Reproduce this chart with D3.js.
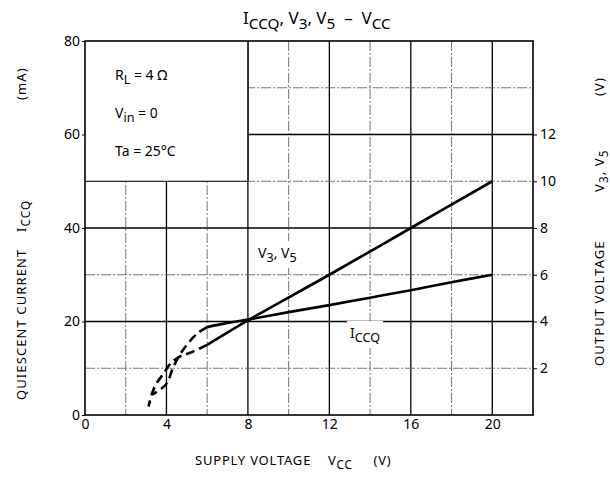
<!DOCTYPE html>
<html>
<head>
<meta charset="utf-8">
<script src="https://cdn.jsdelivr.net/npm/d3@7"></script>
<style>
  body { margin: 0; background: #fff; }
  text { font-family: "Noto Sans", "Open Sans", sans-serif; fill: #000; white-space: pre; }
</style>
</head>
<body>
<svg id="chart" width="610" height="482"></svg>
<script>
// ---- data ----
var vccTicks = [0, 4, 8, 12, 16, 20];
var iccTicks = [0, 20, 40, 60, 80];
var voltTicks = [2, 4, 6, 8, 10, 12];

// ICCQ (mA) vs VCC (V)
var iccqSolid = [[6, 18.8], [7, 19.7], [8, 20.4], [10, 22.0], [12, 23.5], [14, 25.1], [16, 26.7], [18, 28.4], [20, 30.0]];
var iccqDashed = [[6, 18.8], [5.5, 17.4], [5.0, 15.0], [4.6, 12.5], [4.3, 9.9], [4.05, 7.0], [3.75, 5.6], [3.3, 4.4]];
// V3, V5 (V) vs VCC (V)
var voutSolid = [[6, 3.0], [8, 4.05], [12, 6.0], [16, 8.0], [20, 10.0]];
var voutDashed = [[6, 3.0], [5.1, 2.64], [4.65, 2.5], [4.2, 2.2], [3.85, 1.76], [3.5, 1.34], [3.28, 0.88], [3.12, 0.36]];

var svg = d3.select("#chart");
var pLeft = 85, pRight = 533, pTop = 41, pBottom = 415;

var x = d3.scaleLinear().domain([0, 22]).range([pLeft, pRight]);
var y = d3.scaleLinear().domain([0, 80]).range([pBottom, pTop]);
var yR = d3.scaleLinear().domain([0, 16]).range([pBottom, pTop]);

// text with subscripts: parts = [[str, isSub], ...]
function richText(g, parts, size) {
  var t = g.append("text").style("font-size", size + "px");
  var shift = 0;
  parts.forEach(function(p) {
    var want = p[1] ? Math.round(size * 0.3) : 0;
    t.append("tspan")
      .attr("dy", want - shift)
      .style("font-size", (p[1] ? size * 0.9 : size) + "px")
      .text(p[0]);
    shift = want;
  });
  return t;
}

// ---- grid ----
var grid = svg.append("g");
d3.range(2, 22, 2).forEach(function(v) {
  var major = v % 4 == 0;
  grid.append("line")
    .attr("x1", x(v)).attr("x2", x(v)).attr("y1", pTop).attr("y2", pBottom)
    .attr("stroke", major ? "#000" : "#666")
    .attr("stroke-width", major ? 1.3 : 0.9)
    .attr("stroke-dasharray", major ? null : "10,2,2,2");
});
d3.range(10, 80, 10).forEach(function(v) {
  var major = v % 20 == 0;
  grid.append("line")
    .attr("x1", pLeft).attr("x2", pRight).attr("y1", y(v)).attr("y2", y(v))
    .attr("stroke", major ? "#000" : "#666")
    .attr("stroke-width", major ? 1.3 : 0.9)
    .attr("stroke-dasharray", major ? null : "10,2,2,2");
});

// condition box (no grid inside)
svg.append("rect")
  .attr("x", x(0)).attr("y", y(80))
  .attr("width", x(8) - x(0)).attr("height", y(50) - y(80))
  .attr("fill", "#fff");
svg.append("line")
  .attr("x1", x(0)).attr("x2", x(8)).attr("y1", y(50)).attr("y2", y(50))
  .attr("stroke", "#000").attr("stroke-width", 1.2);
svg.append("line")
  .attr("x1", x(8)).attr("x2", x(8)).attr("y1", y(80)).attr("y2", y(50))
  .attr("stroke", "#000").attr("stroke-width", 1.3);

var cond = svg.append("g");
richText(cond, [["R", 0], ["L", 1], [" = 4 \u03A9", 0]], 14).attr("x", 115).attr("y", 80);
richText(cond, [["V", 0], ["in", 1], [" = 0", 0]], 14).attr("x", 115).attr("y", 118);
richText(cond, [["Ta = 25\u00B0C", 0]], 14).attr("x", 115).attr("y", 156);

// curve labels with white backing (grid is broken around them)
function label(parts, px, py) {
  var g = svg.append("g");
  var t = richText(g, parts, 14).attr("x", px).attr("y", py);
  var b = t.node().getBBox();
  g.insert("rect", "text")
    .attr("x", b.x - 3).attr("y", b.y - 2)
    .attr("width", b.width + 6).attr("height", b.height + 4)
    .attr("fill", "#fff");
}
label([["V", 0], ["3", 1], [", V", 0], ["5", 1]], 258, 258);
label([["I", 0], ["CCQ", 1]], 350, 338);

// ---- frame ----
svg.append("rect")
  .attr("x", pLeft).attr("y", pTop)
  .attr("width", pRight - pLeft).attr("height", pBottom - pTop)
  .attr("fill", "none").attr("stroke", "#000").attr("stroke-width", 1.6);

// ---- axes ----
var axL = svg.append("g").attr("transform", "translate(" + pLeft + ",0)")
  .call(d3.axisLeft(y).tickValues(iccTicks).tickSize(3).tickPadding(2));
var axB = svg.append("g").attr("transform", "translate(0," + pBottom + ")")
  .call(d3.axisBottom(x).tickValues(vccTicks).tickSize(0).tickPadding(4));
var axR = svg.append("g").attr("transform", "translate(" + pRight + ",0)")
  .call(d3.axisRight(yR).tickValues(voltTicks).tickSize(4).tickPadding(3));
[axL, axB, axR].forEach(function(a) {
  a.select(".domain").remove();
  a.selectAll("text").style("font-size", "14px").style("font-family", "'Noto Sans', sans-serif").attr("fill", "#000");
  a.selectAll("line").attr("stroke", "#000");
});

// ---- curves ----
var lineI = d3.line().curve(d3.curveCatmullRom).x(function(d) { return x(d[0]); }).y(function(d) { return y(d[1]); });
var lineV = d3.line().curve(d3.curveCatmullRom).x(function(d) { return x(d[0]); }).y(function(d) { return yR(d[1]); });

svg.append("path").attr("d", lineI(iccqSolid)).attr("fill", "none").attr("stroke", "#000").attr("stroke-width", 2.6);
svg.append("path").attr("d", lineV(voutSolid)).attr("fill", "none").attr("stroke", "#000").attr("stroke-width", 2.6);
svg.append("path").attr("d", lineI(iccqDashed)).attr("fill", "none").attr("stroke", "#000").attr("stroke-width", 2.6).attr("stroke-dasharray", "9,5");
svg.append("path").attr("d", lineV(voutDashed)).attr("fill", "none").attr("stroke", "#000").attr("stroke-width", 2.6).attr("stroke-dasharray", "9,5");

// ---- titles ----
richText(svg, [["I", 0], ["CCQ", 1], [", V", 0], ["3", 1], [", V", 0], ["5", 1], ["  \u2013  V", 0], ["CC", 1]], 17)
  .attr("x", 243).attr("y", 24);

richText(svg, [["SUPPLY VOLTAGE    V", 0], ["CC", 1], ["     (V)", 0]], 13)
  .attr("x", 195).attr("y", 465).style("letter-spacing", "0.8px");

// rotated axis titles, each piece placed along the axis
function vTitle(parts, tx, ty) {
  richText(svg, parts, 13)
    .attr("transform", "translate(" + tx + "," + ty + ") rotate(-90)")
    .style("letter-spacing", "1.1px");
}
vTitle([["QUIESCENT CURRENT", 0]], 26, 400);
vTitle([["I", 0], ["CCQ", 1]], 26, 232);
vTitle([["(mA)", 0]], 26, 100);
vTitle([["OUTPUT VOLTAGE", 0]], 604, 366);
vTitle([["V", 0], ["3", 1], [", V", 0], ["5", 1]], 604, 192);
vTitle([["(V)", 0]], 604, 96);
</script>
</body>
</html>
